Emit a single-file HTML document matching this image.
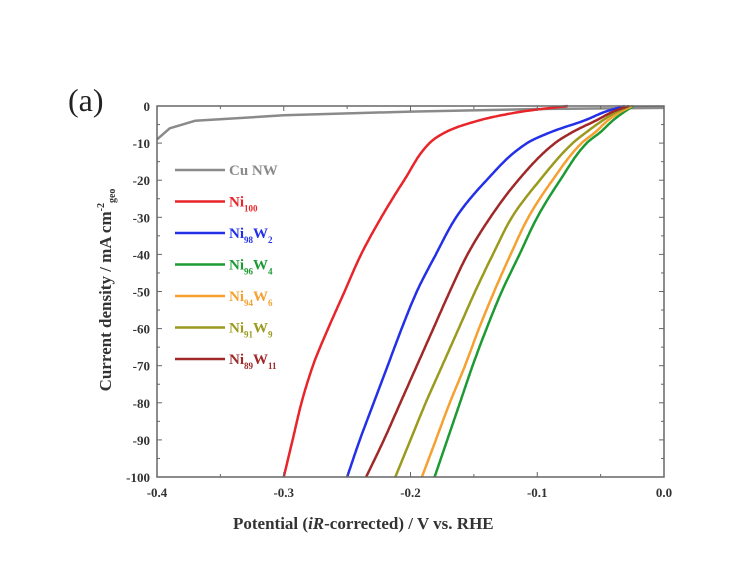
<!DOCTYPE html>
<html><head><meta charset="utf-8"><style>
body{margin:0;background:#fff;width:744px;height:558px;overflow:hidden}
svg{font-family:"Liberation Serif",serif;font-weight:bold}
</style></head><body>
<svg id="chart" width="744" height="558"></svg>
<script>
const xTicks=[-0.4,-0.3,-0.2,-0.1,0.0];
const yTicks=[0,-10,-20,-30,-40,-50,-60,-70,-80,-90,-100];
const seriesNames=["Cu NW","Ni100","Ni98W2","Ni96W4","Ni94W6","Ni91W9","Ni89W11"];
const seriesColors=["#8a8a8a","#e8252a","#2330e8","#1d9a33","#f5a030","#9a9a1e","#a02828"];
const jLevels=[0,-1.5,-3.8,-7,-10,-20,-30,-40,-50,-60,-70,-80,-90,-100];
const cuV=[-0.4,-0.39,-0.37,-0.3,-0.2,-0.1,0];
const cuJ=[-9,-6,-4,-2.5,-1.5,-0.8,-0.5];
const ni100V=[-0.076,-0.112,-0.145,-0.172,-0.185,-0.205,-0.223,-0.239,-0.252,-0.265,-0.277,-0.286,-0.293,-0.300];
const ni98V=[-0.031,-0.046,-0.062,-0.089,-0.108,-0.140,-0.164,-0.180,-0.195,-0.207,-0.218,-0.229,-0.240,-0.250];
const ni96V=[-0.024,-0.031,-0.040,-0.050,-0.061,-0.082,-0.100,-0.114,-0.128,-0.140,-0.151,-0.161,-0.171,-0.181];
const ni94V=[-0.025,-0.034,-0.044,-0.054,-0.065,-0.088,-0.107,-0.121,-0.134,-0.146,-0.157,-0.169,-0.180,-0.191];
const ni91V=[-0.027,-0.037,-0.048,-0.061,-0.072,-0.098,-0.120,-0.135,-0.149,-0.162,-0.175,-0.188,-0.200,-0.212];
const ni89V=[-0.028,-0.040,-0.053,-0.072,-0.086,-0.115,-0.137,-0.155,-0.169,-0.182,-0.195,-0.208,-0.221,-0.235];
const X0=157,X1=664,Y0=106,Y1=477;
const xs=v=>X0+(v+0.4)/0.4*(X1-X0);
const ys=j=>Y0+(-j)/100*(Y1-Y0);
const svg=document.getElementById('chart');const NS="http://www.w3.org/2000/svg";
function mk(t,a,p){const e=document.createElementNS(NS,t);for(const k in a)e.setAttribute(k,a[k]);(p||svg).appendChild(e);return e;}
// monotone cubic interpolation of V as a function of J, sampled densely
function monoPath(js,vs){
 const n=js.length,t=js.map(j=>-j),h=[],d=[],m=new Array(n);
 for(let i=0;i<n-1;i++){h[i]=t[i+1]-t[i];d[i]=(vs[i+1]-vs[i])/h[i];}
 m[0]=d[0];m[n-1]=d[n-2];
 for(let i=1;i<n-1;i++){if(d[i-1]*d[i]<=0)m[i]=0;else{const w1=2*h[i]+h[i-1],w2=h[i]+2*h[i-1];m[i]=(w1+w2)/(w1/d[i-1]+w2/d[i]);}}
 let s='';
 for(let i=0;i<n-1;i++){const steps=20;
  for(let k=(i?1:0);k<=steps;k++){const u=k/steps,tt=t[i]+u*h[i];
   const h00=2*u*u*u-3*u*u+1,h10=u*u*u-2*u*u+u,h01=-2*u*u*u+3*u*u,h11=u*u*u-u*u;
   const v=h00*vs[i]+h10*h[i]*m[i]+h01*vs[i+1]+h11*h[i]*m[i+1];
   s+=(s?'L':'M')+xs(v).toFixed(1)+','+ys(-tt).toFixed(1);}}
 return s;}
const topLine=mk('line',{x1:xs(-0.03),x2:X1,y1:Y0+1,y2:Y0+1,stroke:'#8a8a8a','stroke-width':2});


const allV=[cuV,ni100V,ni98V,ni96V,ni94V,ni91V,ni89V];
allV.forEach((vs,i)=>{const js=i===0?cuJ:jLevels;
 let d;
 if(i===0){d=vs.map((v,k)=>(k?'L':'M')+xs(v).toFixed(1)+','+ys(js[k]).toFixed(1)).join('');}
 else d=monoPath(js,vs);
 const p=mk('path',{d:d,fill:'none',stroke:seriesColors[i],'stroke-width':2.5,'stroke-linejoin':'round'});
 
 });
const fr=mk('rect',{x:X0,y:Y0,width:X1-X0,height:Y1-Y0,fill:'none',stroke:'#666','stroke-width':1.5});


xTicks.forEach((t,i)=>{const x=xs(t);
 mk('line',{x1:x,x2:x,y1:Y1,y2:Y1-5,stroke:'#666'});mk('line',{x1:x,x2:x,y1:Y0,y2:Y0+5,stroke:'#666'});
 if(i<xTicks.length-1){const xm=xs(t+0.05);mk('line',{x1:xm,x2:xm,y1:Y1,y2:Y1-3,stroke:'#666'});mk('line',{x1:xm,x2:xm,y1:Y0,y2:Y0+3,stroke:'#666'});}
 const tx=mk('text',{x:x,y:Y1+20,'text-anchor':'middle','font-size':13,fill:'#333'});tx.textContent=t.toFixed(1);
 
 });
yTicks.forEach((t,i)=>{const y=ys(t);
 mk('line',{x1:X0,x2:X0+5,y1:y,y2:y,stroke:'#666'});mk('line',{x1:X1,x2:X1-5,y1:y,y2:y,stroke:'#666'});
 if(i<yTicks.length-1){const ym=ys(t-5);mk('line',{x1:X0,x2:X0+3,y1:ym,y2:ym,stroke:'#666'});mk('line',{x1:X1,x2:X1-3,y1:ym,y2:ym,stroke:'#666'});}
 const tx=mk('text',{x:X0-7,y:y+5,'text-anchor':'end','font-size':13,fill:'#333'});tx.textContent=t;
 
 });
const legSub=[["Cu NW"],["Ni","100"],["Ni","98","W","2"],["Ni","96","W","4"],["Ni","94","W","6"],["Ni","91","W","9"],["Ni","89","W","11"]];
legSub.forEach((parts,i)=>{const y=170+i*31.5;
 mk('line',{x1:175,x2:225,y1:y,y2:y,stroke:seriesColors[i],'stroke-width':2.5});
 const t=mk('text',{x:229,y:y+5,'font-size':15,fill:seriesColors[i]});
 
 
 parts.forEach((s,k)=>{const ts=mk('tspan',{},t);ts.textContent=s;
  if(k%2===1){ts.setAttribute('font-size','9');ts.setAttribute('dy','5');}
  else if(k>0){ts.setAttribute('dy','-5');}});});
</script>
<div style="position:absolute;left:68px;top:82px;font:32px 'Liberation Serif',serif;color:#222">(a)</div>
<div style="position:absolute;left:233px;top:514px;font:bold 17px 'Liberation Serif',serif;color:#333">Potential (<i>iR</i>-corrected) / V vs. RHE</div>
<div style="position:absolute;left:107px;top:290px;width:0;height:0"><div style="position:absolute;transform:translate(-50%,-50%) rotate(-90deg);white-space:nowrap;font:bold 17px 'Liberation Serif',serif;color:#333">Current density / mA cm<sup style="font-size:10px">-2</sup><sub style="font-size:10px">geo</sub></div></div>
</body></html>
